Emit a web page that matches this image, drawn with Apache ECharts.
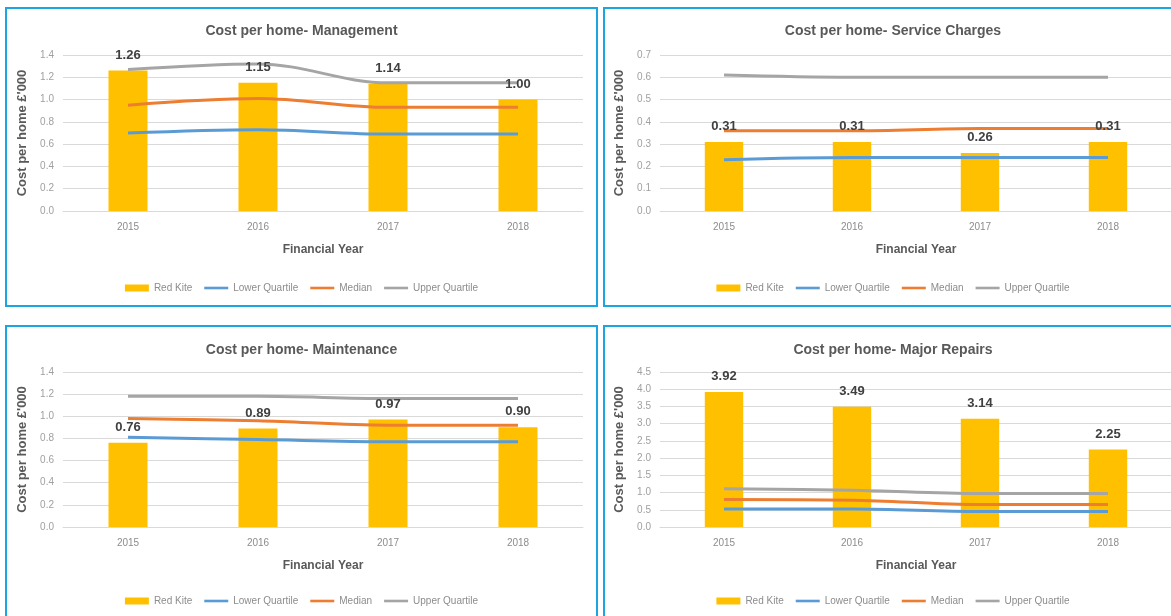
<!DOCTYPE html>
<html>
<head>
<meta charset="utf-8">
<script src="https://cdn.jsdelivr.net/npm/echarts@6/dist/echarts.min.js"></script>
<style>
  html, body { margin:0; padding:0; width:1171px; height:616px; overflow:hidden; background:#fff; }
  .panel { position:absolute; box-sizing:border-box; border:2px solid #1BA6E0; background:#fff; }
  #p1 { left:5px; top:7px; width:593px; height:300px; }
  #p2 { left:603px; top:7px; width:580px; height:300px; }
  #p3 { left:5px; top:325px; width:593px; height:300px; }
  #p4 { left:603px; top:325px; width:580px; height:300px; }
  .panel > div { width:100%; height:100%; }
</style>
</head>
<body>
<div class="panel" id="p1"><div id="c1"></div></div>
<div class="panel" id="p2"><div id="c2"></div></div>
<div class="panel" id="p3"><div id="c3"></div></div>
<div class="panel" id="p4"><div id="c4"></div></div>
<script>
// ---------- data ----------
const categories = ['2015', '2016', '2017', '2018'];
const seriesNames = ['Red Kite', 'Lower Quartile', 'Median', 'Upper Quartile'];

const titles = [
  'Cost per home- Management',
  'Cost per home- Service Charges',
  'Cost per home- Maintenance',
  'Cost per home- Major Repairs'
];

const mgmtRedKite = [1.26, 1.15, 1.14, 1.00];
const mgmtLower   = [0.70, 0.73, 0.69, 0.69];
const mgmtMedian  = [0.95, 1.01, 0.93, 0.93];
const mgmtUpper   = [1.27, 1.32, 1.15, 1.15];

const svcRedKite = [0.31, 0.31, 0.26, 0.31];
const svcLower   = [0.23, 0.24, 0.24, 0.24];
const svcMedian  = [0.36, 0.36, 0.37, 0.37];
const svcUpper   = [0.61, 0.60, 0.60, 0.60];

const mntRedKite = [0.76, 0.89, 0.97, 0.90];
const mntLower   = [0.81, 0.79, 0.77, 0.77];
const mntMedian  = [0.98, 0.96, 0.92, 0.92];
const mntUpper   = [1.18, 1.18, 1.16, 1.16];

const majRedKite = [3.92, 3.49, 3.14, 2.25];
const majLower   = [0.52, 0.52, 0.45, 0.45];
const majMedian  = [0.80, 0.78, 0.65, 0.65];
const majUpper   = [1.11, 1.07, 0.97, 0.97];

const yMax      = [1.4, 0.7, 1.4, 4.5];
const yInterval = [0.2, 0.1, 0.2, 0.5];

// ---------- styles ----------
const FONT = '"Liberation Sans", Arial, sans-serif';
const colors = { bar: '#FFC000', lower: '#5B9BD5', median: '#ED7D31', upper: '#A5A5A5' };
const LINE_ICON = 'path://M0,0L24,0L24,2.6L0,2.6Z';

function buildOption(idx, redKite, lower, median, upper, grid) {
  const lineBase = {
    type: 'line', symbol: 'none', smooth: 0.35, z: 3,
    emphasis: { disabled: true }
  };
  return {
    animation: false,
    textStyle: { fontFamily: FONT },
    title: {
      text: titles[idx], left: 'center', top: grid.titleTop,
      textStyle: { fontFamily: FONT, fontSize: 14, fontWeight: 'bold', color: '#595959' }
    },
    legend: {
      top: grid.legendTop, left: 'center',
      itemWidth: 24, itemHeight: 7, itemGap: 12, symbolKeepAspect: true,
      textStyle: { fontFamily: FONT, fontSize: 10, color: '#8c8c8c' },
      data: [
        { name: seriesNames[0], icon: 'rect' },
        { name: seriesNames[1], icon: LINE_ICON },
        { name: seriesNames[2], icon: LINE_ICON },
        { name: seriesNames[3], icon: LINE_ICON }
      ]
    },
    grid: { left: grid.left, right: grid.right, top: grid.top, bottom: grid.bottom },
    xAxis: {
      type: 'category', data: categories,
      name: 'Financial Year', nameLocation: 'middle', nameGap: 33,
      nameTextStyle: { fontFamily: FONT, fontSize: 12, fontWeight: 'bold', color: '#595959' },
      axisLine: { show: true, lineStyle: { color: '#d9d9d9' } },
      axisTick: { show: false },
      axisLabel: { fontFamily: FONT, fontSize: 10, color: '#8c8c8c', margin: 11 }
    },
    yAxis: {
      type: 'value', min: 0, max: yMax[idx], interval: yInterval[idx],
      name: 'Cost per home £\'000', nameLocation: 'middle', nameGap: 28, nameRotate: 90,
      nameTextStyle: { fontFamily: FONT, fontSize: 13, fontWeight: 'bold', color: '#595959' },
      axisLine: { show: false }, axisTick: { show: false },
      splitLine: { lineStyle: { color: '#d9d9d9', width: 1 } },
      axisLabel: { fontFamily: FONT, fontSize: 10, color: '#a0a0a0', margin: 9,
        formatter: v => v.toFixed(1) }
    },
    series: [
      {
        name: seriesNames[0], type: 'bar', data: redKite, barWidth: '30%', barGap: '-100%', z: 2,
        itemStyle: { color: colors.bar },
        emphasis: { disabled: true }
      },
      Object.assign({}, lineBase, { name: seriesNames[1], data: lower,
        itemStyle: { color: colors.lower }, lineStyle: { color: colors.lower, width: 3 } }),
      Object.assign({}, lineBase, { name: seriesNames[2], data: median,
        itemStyle: { color: colors.median }, lineStyle: { color: colors.median, width: 3 } }),
      Object.assign({}, lineBase, { name: seriesNames[3], data: upper,
        itemStyle: { color: colors.upper }, lineStyle: { color: colors.upper, width: 3 } }),
      {
        // value labels for Red Kite, drawn above the lines
        name: 'Red Kite labels', type: 'bar', data: redKite, barWidth: '30%', barGap: '-100%', z: 5,
        silent: true,
        itemStyle: { color: 'rgba(0,0,0,0)' },
        emphasis: { disabled: true },
        label: { show: true, position: 'top', distance: 9,
          fontFamily: FONT, fontSize: 13, fontWeight: 'bold', color: '#404040',
          formatter: p => p.value.toFixed(2) }
      }
    ]
  };
}

const layoutTop    = { left: 56, right: 13, top: 46, bottom: 94, titleTop: 10, legendTop: 269 };
const layoutTopR   = { left: 55, right: 9,  top: 46, bottom: 94, titleTop: 10, legendTop: 269 };
const layoutBot    = { left: 56, right: 13, top: 45, bottom: 96, titleTop: 11, legendTop: 264 };
const layoutBotR   = { left: 55, right: 9,  top: 45, bottom: 96, titleTop: 11, legendTop: 264 };

const charts = [
  ['c1', 0, mgmtRedKite, mgmtLower, mgmtMedian, mgmtUpper, layoutTop],
  ['c2', 1, svcRedKite, svcLower, svcMedian, svcUpper, layoutTopR],
  ['c3', 2, mntRedKite, mntLower, mntMedian, mntUpper, layoutBot],
  ['c4', 3, majRedKite, majLower, majMedian, majUpper, layoutBotR]
];
charts.forEach(c => {
  const chart = echarts.init(document.getElementById(c[0]), null, { renderer: 'canvas' });
  chart.setOption(buildOption(c[1], c[2], c[3], c[4], c[5], c[6]));
});
</script>
</body>
</html>
